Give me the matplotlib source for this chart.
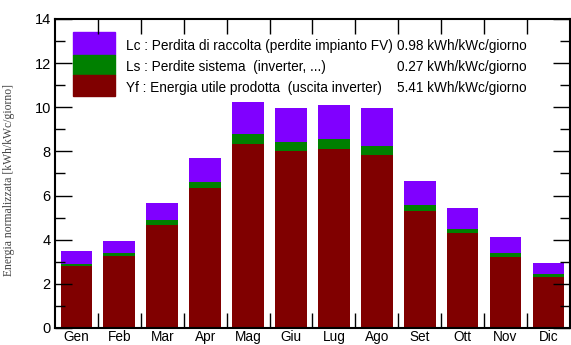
import matplotlib.pyplot as plt
import numpy as np

# monthly normalised energy (kWh/kWc/giorno)
months = ["Gen", "Feb", "Mar", "Apr", "Mag", "Giu", "Lug", "Ago", "Set", "Ott", "Nov", "Dic"]
yf = [2.81, 3.28, 4.67, 6.33, 8.34, 8.02, 8.11, 7.84, 5.32, 4.29, 3.20, 2.30]
ls = [0.11, 0.10, 0.22, 0.30, 0.45, 0.42, 0.44, 0.41, 0.25, 0.18, 0.18, 0.15]
lc = [0.58, 0.58, 0.76, 1.06, 1.44, 1.51, 1.55, 1.70, 1.10, 0.95, 0.73, 0.48]

legend_labels = [
    "Lc : Perdita di raccolta (perdite impianto FV)",
    "Ls : Perdite sistema  (inverter, ...)",
    "Yf : Energia utile prodotta  (uscita inverter)",
]
legend_values = ["0.98 kWh/kWc/giorno", "0.27 kWh/kWc/giorno", "5.41 kWh/kWc/giorno"]

c_yf, c_ls, c_lc = "#800000", "#008000", "#8000ff"

plt.rcParams["font.family"] = ["Liberation Sans", "DejaVu Sans"]

fig = plt.figure(figsize=(5.71, 3.45), dpi=100)
ax = fig.add_axes([0.0963, 0.0493, 0.9017, 0.8957])

x = np.arange(len(months))
yf_a, ls_a, lc_a = np.array(yf), np.array(ls), np.array(lc)
w = 0.74
ax.bar(x, yf_a, w, color=c_yf)
ax.bar(x, ls_a, w, bottom=yf_a, color=c_ls)
ax.bar(x, lc_a, w, bottom=yf_a + ls_a, color=c_lc)

ax.set_xlim(-0.5, len(months) - 0.5)
ax.set_ylim(0, 14)
ax.set_xticks(x)
ax.set_xticklabels(months, fontsize=9.8)
ax.set_xticks(np.arange(0.5, len(months) - 1, 1), minor=True)
ax.tick_params(axis="x", which="major", length=0, pad=1.5)
ax.tick_params(axis="x", which="minor", direction="in", length=11, width=1, top=True)
ax.set_yticks(np.arange(0, 15, 2))
ax.set_yticks(np.arange(1, 14, 2), minor=True)
ax.tick_params(axis="y", which="major", direction="in", length=12, width=1,
               right=True, labelsize=10.5, pad=3)
ax.tick_params(axis="y", which="minor", direction="in", length=7, width=1, right=True)
for s in ax.spines.values():
    s.set_linewidth(1.5)

ax.set_ylabel("Energia normalizzata [kWh/kWc/giorno]", family="Liberation Serif",
              fontsize=8.4, color="#444444")
ax.yaxis.set_label_coords(-0.078, 0.48)

# legend box drawn as stacked patches
lx0, lx1 = 0.035, 0.1165
bands = [(0.8835, 0.958), (0.8188, 0.8835), (0.751, 0.8188)]
rows_y = [0.9126, 0.8456, 0.7767]
cols = [c_lc, c_ls, c_yf]
for (b0, b1), col in zip(bands, cols):
    ax.add_patch(plt.Rectangle((lx0, b0), lx1 - lx0, b1 - b0,
                               transform=ax.transAxes, color=col, clip_on=False))
for ry, lab, val in zip(rows_y, legend_labels, legend_values):
    ax.text(0.138, ry, lab, transform=ax.transAxes, fontsize=9.8, va="center")
    ax.text(0.664, ry, val, transform=ax.transAxes, fontsize=9.8, va="center")

fig.savefig("out.png", dpi=100)
